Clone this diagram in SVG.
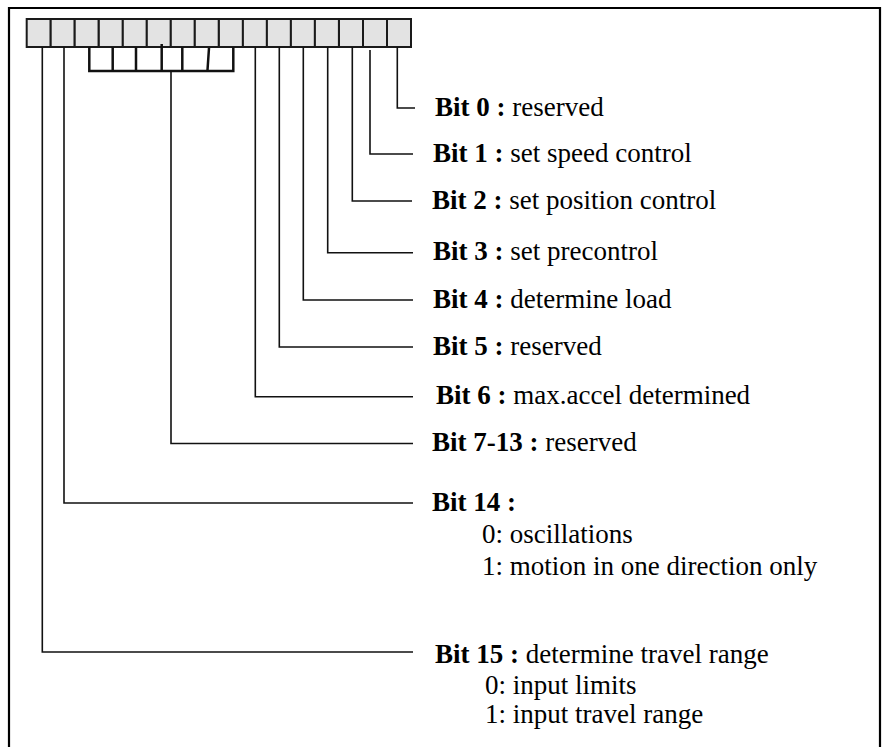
<svg xmlns="http://www.w3.org/2000/svg" width="883" height="747" viewBox="0 0 883 747">
<style>
.cell{fill:#e3e3e3;stroke:#1a1a1a;stroke-width:2}
.con{fill:none;stroke:#111;stroke-width:1.6}
.br{fill:none;stroke:#111;stroke-width:2.5}
text{font-family:"Liberation Serif","Times New Roman",serif;font-size:27px;fill:#000}
.b{font-weight:bold}
</style>
<rect width="883" height="747" fill="#fff"/>
<path d="M9,750 V8 H880 V750" fill="none" stroke="#000" stroke-width="2.2"/>
<g id="register">
<rect class="cell" x="26.7" y="19" width="24" height="28"/>
<rect class="cell" x="50.7" y="19" width="24" height="28"/>
<rect class="cell" x="74.7" y="19" width="24" height="28"/>
<rect class="cell" x="98.8" y="19" width="24" height="28"/>
<rect class="cell" x="122.8" y="19" width="24" height="28"/>
<rect class="cell" x="146.8" y="19" width="24" height="28"/>
<rect class="cell" x="170.8" y="19" width="24" height="28"/>
<rect class="cell" x="194.8" y="19" width="24" height="28"/>
<rect class="cell" x="218.9" y="19" width="24" height="28"/>
<rect class="cell" x="242.9" y="19" width="24" height="28"/>
<rect class="cell" x="266.9" y="19" width="24" height="28"/>
<rect class="cell" x="290.9" y="19" width="24" height="28"/>
<rect class="cell" x="314.9" y="19" width="24" height="28"/>
<rect class="cell" x="339" y="19" width="24" height="28"/>
<rect class="cell" x="363" y="19" width="24" height="28"/>
<rect class="cell" x="387" y="19" width="24" height="28"/>
</g>
<g id="connectors">
<path class="br" d="M89.3,47 V71 H233.3 V47"/>
<path class="br" d="M112.7,47 V71 M136,47 V71 M161.7,44 V71 M182.3,47 V71 M209,48 L207.5,70"/>
<path class="con" d="M397.3,47 V108 H415"/>
<path class="con" d="M370,50 V154 H413"/>
<path class="con" d="M352.3,47 V201 H412"/>
<path class="con" d="M327.7,47 V252.7 H413"/>
<path class="con" d="M303.3,47 V300 H413"/>
<path class="con" d="M279.3,47 V347 H413"/>
<path class="con" d="M255.3,47 V396.7 H413"/>
<path class="con" d="M171,71 V443.5 H413"/>
<path class="con" d="M64,47 V503 H413"/>
<path class="con" d="M42.3,47 V652 H413"/>
</g>
<g id="bit0"><text x="435" y="116"><tspan class="b">Bit 0 :</tspan> reserved</text></g>
<g id="bit1"><text x="433" y="162"><tspan class="b">Bit 1 :</tspan> set speed control</text></g>
<g id="bit2"><text x="432" y="209"><tspan class="b">Bit 2 :</tspan> set position control</text></g>
<g id="bit3"><text x="433" y="260"><tspan class="b">Bit 3 :</tspan> set precontrol</text></g>
<g id="bit4"><text x="433" y="308"><tspan class="b">Bit 4 :</tspan> determine load</text></g>
<g id="bit5"><text x="433" y="355"><tspan class="b">Bit 5 :</tspan> reserved</text></g>
<g id="bit6"><text x="436" y="404"><tspan class="b">Bit 6 :</tspan> max.accel determined</text></g>
<g id="bit7-13"><text x="432" y="451"><tspan class="b">Bit 7-13 :</tspan> reserved</text></g>
<g id="bit14">
<text x="432" y="511" class="b">Bit 14 :</text>
<text x="482" y="543">0: oscillations</text>
<text x="482" y="575">1: motion in one direction only</text>
</g>
<g id="bit15">
<text x="435" y="663"><tspan class="b">Bit 15 :</tspan> determine travel range</text>
<text x="485" y="694">0: input limits</text>
<text x="485" y="723">1: input travel range</text>
</g>
</svg>
